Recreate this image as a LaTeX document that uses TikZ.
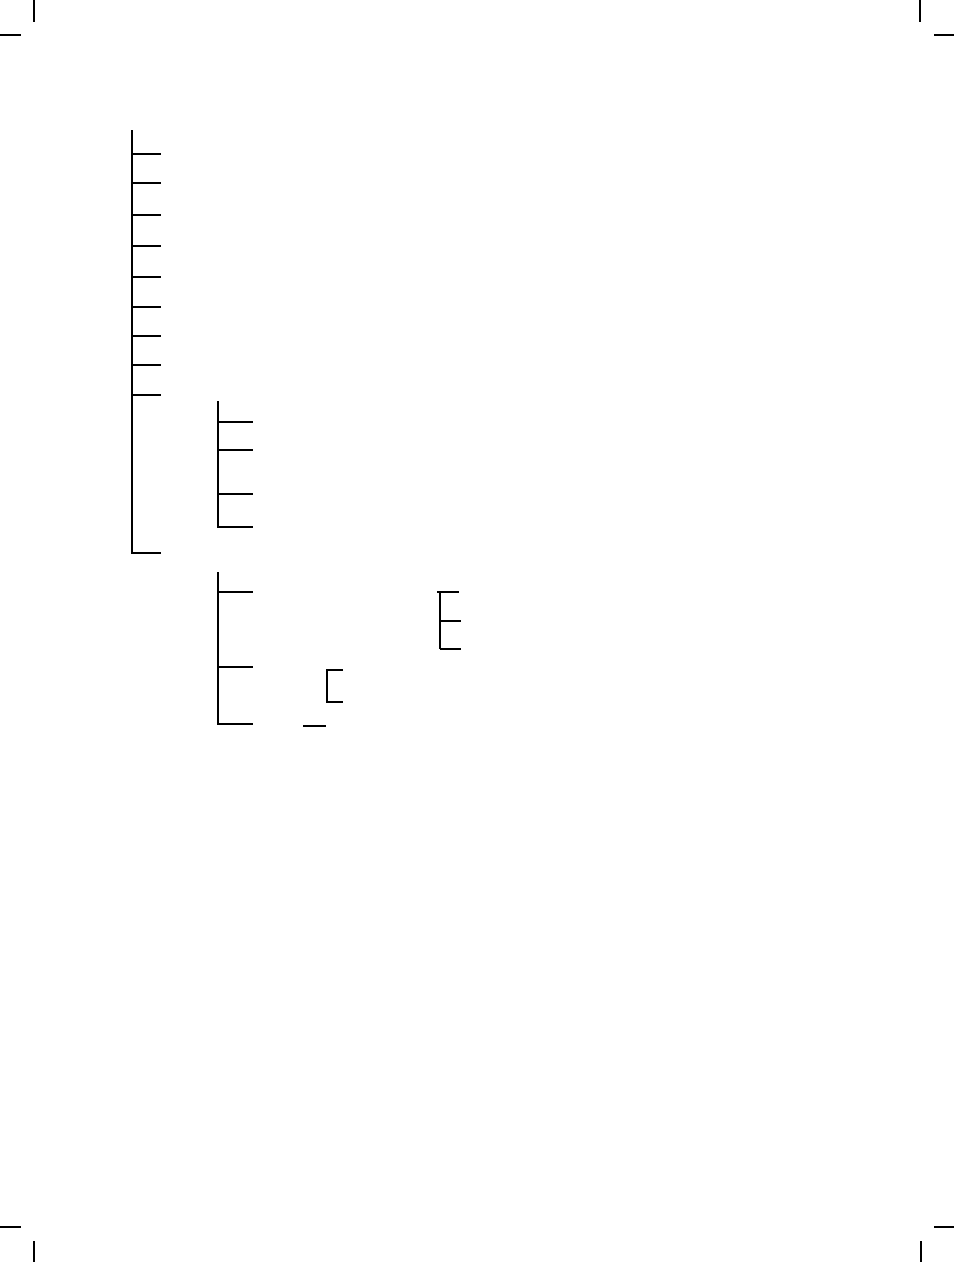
\documentclass[tikz,border=0pt]{standalone}
\usepackage{tikz}

\begin{document}
\begin{tikzpicture}[x=1pt,y=-1pt,line width=1.6pt]
  \useasboundingbox (0,0) rectangle (954,1262);
  % crop marks
  \draw[line width=1.3pt] (34,0) -- (34,22);
  \draw[line width=2pt] (0,35) -- (21,35);
  \draw[line width=1.3pt] (920,0) -- (920,22);
  \draw[line width=2pt] (934,35) -- (954,35);
  \draw[line width=2pt] (0,1227) -- (21,1227);
  \draw[line width=1.3pt] (34,1241) -- (34,1262);
  \draw[line width=2pt] (934,1227) -- (954,1227);
  \draw[line width=1.3pt] (921,1241) -- (921,1262);
  % first tree
  \coordinate (roota) at (132,130);
  \draw (roota) -- (132,553) -- (161,553);
  \foreach \y in {154,183,215,246,277,307,336,365,395}
    \draw (132,\y) -- (161,\y);
  % second tree
  \coordinate (rootb) at (218,401);
  \draw (rootb) -- (218,527) -- (253,527);
  \foreach \y in {422,450,494}
    \draw (218,\y) -- (253,\y);
  % third tree
  \coordinate (rootc) at (218,572);
  \draw (rootc) -- (218,724) -- (253,724);
  \foreach \y in {592,667}
    \draw (218,\y) -- (253,\y);
  % small brackets
  \draw (343,670) -- (327,670) -- (327,702) -- (343,702);
  \draw (303,726) -- (326,726);
  \draw[line width=1.2pt] (440,592) -- (440,649);
  \draw (437,592) -- (459,592);
  \draw (440,621) -- (461,621);
  \draw (440,649) -- (461,649);
\end{tikzpicture}
\end{document}
